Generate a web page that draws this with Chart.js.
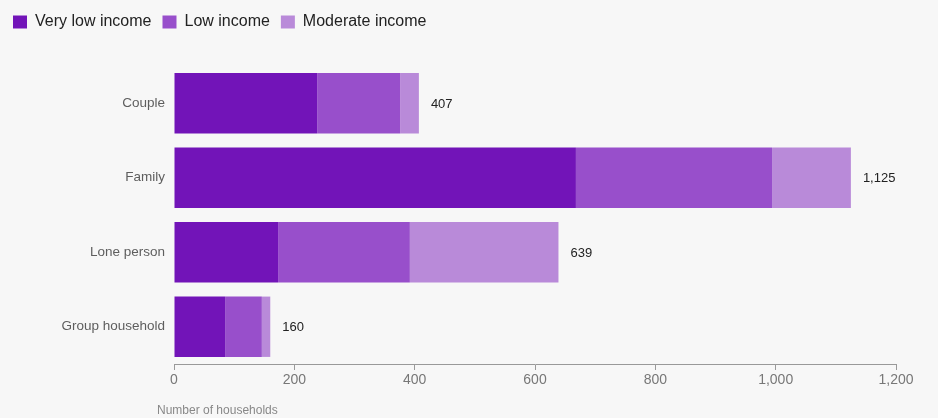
<!DOCTYPE html>
<html>
<head>
<meta charset="utf-8">
<script src="https://cdn.jsdelivr.net/npm/chart.js@4"></script>
<style>
  html, body { margin: 0; padding: 0; background: #f7f7f7; }
  #wrap { width: 938px; height: 418px; }
</style>
</head>
<body>
<div id="wrap"><canvas id="households_chart"></canvas></div>
<script>
// -- DATA -- //
const household_types = ["Couple", "Family", "Lone person", "Group household"];
const very_low_income = [238, 668, 173, 85];
const low_income = [138, 326, 219, 61];
const moderate_income = [31, 131, 247, 14];
const household_totals = [407, 1125, 639, 160];
const x_ticks = [0, 200, 400, 600, 800, 1000, 1200];

const FONT = "'Liberation Sans', Arial, sans-serif";

// Total written just past the end of each stacked bar
const total_labels = {
    id: "total_labels",
    afterDatasetsDraw(chart) {
        const ctx = chart.ctx;
        const xs = chart.scales.x;
        const ys = chart.scales.y;
        ctx.save();
        ctx.font = "13px " + FONT;
        ctx.fillStyle = "#222";
        ctx.textAlign = "left";
        ctx.textBaseline = "middle";
        household_totals.forEach(function (t, i) {
            ctx.fillText(t.toLocaleString("en-US"), xs.getPixelForValue(t) + 12, ys.getPixelForValue(i) + 1);
        });
        ctx.restore();
    }
};

// Axis caption sits left of the plot area, so draw it by hand
const axis_caption = {
    id: "axis_caption",
    afterDraw(chart) {
        const ctx = chart.ctx;
        ctx.save();
        ctx.font = "12px " + FONT;
        ctx.fillStyle = "#888";
        ctx.textAlign = "left";
        ctx.textBaseline = "middle";
        ctx.fillText("Number of households", chart.chartArea.left - 17, 411);
        ctx.restore();
    }
};

// Extra gap under the legend
const legend_gap = {
    id: "legend_gap",
    beforeInit(chart) {
        const fit = chart.legend.fit;
        chart.legend.fit = function () {
            fit.bind(chart.legend)();
            this.height += 26;
        };
    }
};

const chart_ctx = document.getElementById("households_chart").getContext("2d");
let households_chart = new Chart(chart_ctx, {
    type: "bar",
    data: {
        labels: household_types,
        datasets: [
            { label: "Very low income", data: very_low_income, backgroundColor: "#7214b8" },
            { label: "Low income", data: low_income, backgroundColor: "#984fcb" },
            { label: "Moderate income", data: moderate_income, backgroundColor: "#b98ad9" }
        ]
    },
    options: {
        indexAxis: "y",
        responsive: true,
        maintainAspectRatio: false,
        animation: false,
        layout: { padding: { top: 3, right: 42, left: 2, bottom: 0 } },
        datasets: { bar: { categoryPercentage: 1.0, barPercentage: 0.81 } },
        plugins: {
            legend: {
                position: "top",
                align: "start",
                labels: {
                    boxWidth: 14,
                    boxHeight: 13,
                    padding: 11,
                    color: "#222",
                    font: { family: FONT, size: 16 }
                }
            },
            tooltip: { enabled: false }
        },
        scales: {
            x: {
                stacked: true,
                min: 0,
                max: 1200,
                afterBuildTicks: function (scale) {
                    scale.ticks = x_ticks.map(function (v) { return { value: v }; });
                },
                afterFit: function (scale) { scale.height = 54; },
                border: { display: true, color: "#999", width: 1 },
                grid: { drawOnChartArea: false, drawTicks: true, tickLength: 6, color: "#999" },
                ticks: {
                    color: "#777",
                    padding: 2,
                    font: { family: FONT, size: 14 },
                    callback: function (v) { return v.toLocaleString("en-US"); }
                }
            },
            y: {
                stacked: true,
                afterFit: function (scale) { scale.width = 172; },
                border: { display: false },
                grid: { display: false, drawTicks: false, tickLength: 0 },
                ticks: {
                    color: "#5e5e5e",
                    padding: 9,
                    font: { family: FONT, size: 13.5 }
                }
            }
        }
    },
    plugins: [total_labels, axis_caption, legend_gap]
});
</script>
</body>
</html>
